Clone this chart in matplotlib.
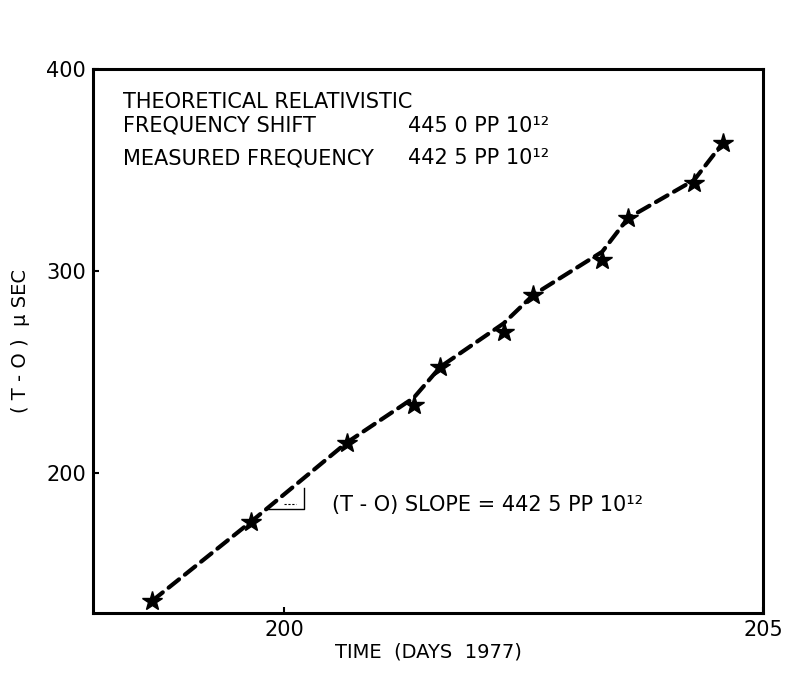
import matplotlib.pyplot as plt
import numpy as np

# measured (T-O) points, days of 1977 vs microseconds
days = [198.62, 199.65, 200.65, 201.35, 201.63, 202.29, 202.60, 203.32, 203.59, 204.28, 204.58]
t_o = [136.6, 175.7, 214.9, 233.7, 252.5, 269.8, 288.1, 305.4, 326.2, 343.6, 363.4]
# hand-drawn dashed trend through the points
trend = [136.6, 175.7, 214.9, 237.1, 252.5, 274.0, 288.1, 309.5, 326.2, 345.0, 363.4]

# slope triangle corners
tri_x = [199.82, 200.20, 200.20]
tri_y = [182.2, 182.2, 192.6]

x_ticks = [200, 205]
y_ticks = [200, 300, 400]

plt.rcParams['font.family'] = ['DejaVu Sans']

fig = plt.figure(figsize=(7.85, 6.74), dpi=100)
ax = fig.add_axes([0.1185, 0.0905, 0.8535, 0.807])

ax.plot(days, trend, color='black', lw=3.0, linestyle=(0, (3.2, 1.8)),
        dash_capstyle='round', zorder=2)
ax.plot(days, t_o, linestyle='none', marker='*', ms=15, color='black', zorder=3)
ax.plot(tri_x, tri_y, color='black', lw=1.0, zorder=1)
ax.plot([200.0, 200.12], [184.5, 184.5], color='black', lw=0.8, linestyle=(0, (2, 1.5)))

ax.set_xlim(198.0, 205.0)
ax.set_ylim(130.5, 400)
ax.set_xticks(x_ticks)
ax.set_yticks(y_ticks)
ax.tick_params(direction='in', length=4, width=1.5, labelsize=15, pad=5)
for s in ax.spines.values():
    s.set_linewidth(2.2)

ax.set_xlabel('TIME  (DAYS  1977)', fontsize=14, labelpad=2)
ax.set_ylabel('( T - O )  \u00b5 SEC', fontsize=14, labelpad=12)

fs = 15
ax.text(0.045, 0.94, 'THEORETICAL RELATIVISTIC', transform=ax.transAxes, fontsize=fs, va='center')
ax.text(0.045, 0.896, 'FREQUENCY SHIFT', transform=ax.transAxes, fontsize=fs, va='center')
ax.text(0.470, 0.896, '445 0 PP 10\u00b9\u00b2', transform=ax.transAxes, fontsize=fs, va='center')
ax.text(0.045, 0.836, 'MEASURED FREQUENCY', transform=ax.transAxes, fontsize=fs, va='center')
ax.text(0.470, 0.836, '442 5 PP 10\u00b9\u00b2', transform=ax.transAxes, fontsize=fs, va='center')
ax.text(200.5, 184.0, '(T - O) SLOPE = 442 5 PP 10\u00b9\u00b2', fontsize=fs, va='center')

fig.savefig('out.png', dpi=100)
